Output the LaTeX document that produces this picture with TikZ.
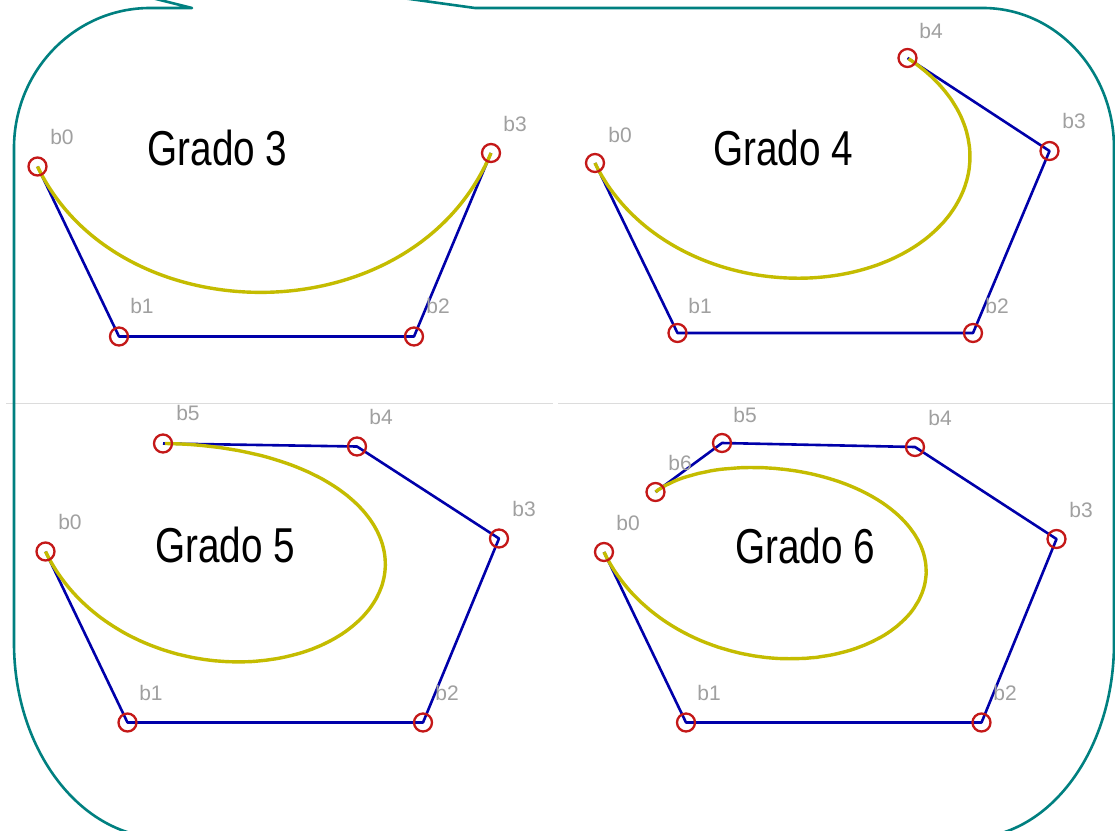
\documentclass[tikz,border=0pt]{standalone}
\usepackage{fontspec}
\setmainfont{Liberation Sans}
\definecolor{frameteal}{RGB}{0,128,128}
\definecolor{polyblue}{RGB}{0,0,170}
\definecolor{curveyel}{RGB}{196,188,0}
\definecolor{ptred}{RGB}{196,24,24}
\definecolor{lblgray}{RGB}{160,160,160}
\definecolor{divgray}{RGB}{220,220,220}
\tikzset{
  frame/.style={draw=frameteal,line width=2.6pt,line join=round},
  divider/.style={draw=divgray,line width=1pt},
  poly/.style={draw=polyblue,line width=2.6pt,line join=round},
  curve/.style={draw=curveyel,line width=3.4pt},
  ctrl/.style={circle,draw=ptred,line width=2.3pt,minimum size=18pt,inner sep=0pt},
  lbl/.style={text=lblgray,inner sep=0pt,font=\fontsize{21}{24}\selectfont},
  title/.style={inner sep=0pt,anchor=base,font=\fontsize{49}{56}\selectfont},
}
\newcommand{\narrowtxt}[1]{\scalebox{0.79}[1]{#1}}
\begin{document}
\begin{tikzpicture}[x=1pt,y=-1pt]
\useasboundingbox (0,0) rectangle (1115,830);
\clip (0,0) rectangle (1115,830);
\fill[white] (0,0) rectangle (1115,830);

% dividers
\draw[divider] (6,403) -- (553,403);
\draw[divider] (558,403) -- (1115,403);

% callout frame
\coordinate (tip) at (-156,-79);
\draw[frame] (tip) -- (475,8) -- (983,8)
  arc[start angle=270,end angle=360,x radius=131,y radius=140]
  -- (1114,643)
  arc[start angle=0,end angle=90,x radius=145,y radius=195]
  -- (164,838)
  arc[start angle=90,end angle=180,x radius=150,y radius=195]
  -- (14,148)
  arc[start angle=180,end angle=270,x radius=136,y radius=140]
  -- (192,8) -- (tip);

% ---------- Grado 3 ----------
\coordinate (a0) at (37.5,166.5);
\coordinate (a1) at (119,336.5);
\coordinate (a2) at (414,336.5);
\coordinate (a3) at (491,153);
\draw[poly] (a0) -- (a1) -- (a2) -- (a3);
\draw[curve] (a0) .. controls (a1) and (a2) .. (a3);
\foreach \p in {a0,a1,a2,a3} \node[ctrl] (c-\p) at (\p) {};
\node[lbl] (l-a0) at (62,137) {b0};
\node[lbl] (l-a1) at (142,306) {b1};
\node[lbl] (l-a2) at (438,306) {b2};
\node[lbl] (l-a3) at (515,124) {b3};
\node[title] (t3) at (217.5,165) {\narrowtxt{Grado 3}};

% ---------- Grado 4 ----------
\coordinate (b0) at (595,163);
\coordinate (b1) at (677.5,333);
\coordinate (b2) at (973,333);
\coordinate (b3) at (1049.5,151);
\coordinate (b4) at (907.5,58);
\draw[poly] (b0) -- (b1) -- (b2) -- (b3) -- (b4);
\draw[curve] plot[domain=0:1,samples=150,variable=\t]
 ({(1-\t)^4*595 + 4*\t*(1-\t)^3*677.5 + 6*\t^2*(1-\t)^2*973 + 4*\t^3*(1-\t)*1049.5 + \t^4*907.5},
  {(1-\t)^4*163 + 4*\t*(1-\t)^3*333 + 6*\t^2*(1-\t)^2*333 + 4*\t^3*(1-\t)*151 + \t^4*58});
\foreach \p in {b0,b1,b2,b3,b4} \node[ctrl] (c-\p) at (\p) {};
\node[lbl] (l-b0) at (620,135) {b0};
\node[lbl] (l-b1) at (700,306) {b1};
\node[lbl] (l-b2) at (997,306) {b2};
\node[lbl] (l-b3) at (1074,121) {b3};
\node[lbl] (l-b4) at (931,31) {b4};
\node[title] (t4) at (783,165) {\narrowtxt{Grado 4}};

% ---------- Grado 5 ----------
\coordinate (d0) at (45.5,551.5);
\coordinate (d1) at (127.5,722.5);
\coordinate (d2) at (423,722.5);
\coordinate (d3) at (499,538.5);
\coordinate (d4) at (357,446.5);
\coordinate (d5) at (163,443.5);
\draw[poly] (d0) -- (d1) -- (d2) -- (d3) -- (d4) -- (d5);
\draw[curve] plot[domain=0:1,samples=150,variable=\t]
 ({(1-\t)^5*45.5 + 5*\t*(1-\t)^4*127.5 + 10*\t^2*(1-\t)^3*423 + 10*\t^3*(1-\t)^2*499 + 5*\t^4*(1-\t)*357 + \t^5*163},
  {(1-\t)^5*551.5 + 5*\t*(1-\t)^4*722.5 + 10*\t^2*(1-\t)^3*722.5 + 10*\t^3*(1-\t)^2*538.5 + 5*\t^4*(1-\t)*446.5 + \t^5*443.5});
\foreach \p in {d0,d1,d2,d3,d4,d5} \node[ctrl] (c-\p) at (\p) {};
\node[lbl] (l-d0) at (70,522) {b0};
\node[lbl] (l-d1) at (151,693) {b1};
\node[lbl] (l-d2) at (447,693) {b2};
\node[lbl] (l-d3) at (524,509) {b3};
\node[lbl] (l-d4) at (381,417) {b4};
\node[lbl] (l-d5) at (188,413) {b5};
\node[title] (t5) at (225,562) {\narrowtxt{Grado 5}};

% ---------- Grado 6 ----------
\coordinate (e0) at (604,552);
\coordinate (e1) at (686,722.5);
\coordinate (e2) at (981.5,722.5);
\coordinate (e3) at (1056.5,539);
\coordinate (e4) at (915,447);
\coordinate (e5) at (722,443);
\coordinate (e6) at (655.5,492);
\draw[poly] (e0) -- (e1) -- (e2) -- (e3) -- (e4) -- (e5) -- (e6);
\draw[curve] plot[domain=0:1,samples=160,variable=\t]
 ({(1-\t)^6*604 + 6*\t*(1-\t)^5*686 + 15*\t^2*(1-\t)^4*981.5 + 20*\t^3*(1-\t)^3*1056.5 + 15*\t^4*(1-\t)^2*915 + 6*\t^5*(1-\t)*722 + \t^6*655.5},
  {(1-\t)^6*552 + 6*\t*(1-\t)^5*722.5 + 15*\t^2*(1-\t)^4*722.5 + 20*\t^3*(1-\t)^3*539 + 15*\t^4*(1-\t)^2*447 + 6*\t^5*(1-\t)*443 + \t^6*492});
\foreach \p in {e0,e1,e2,e3,e4,e5,e6} \node[ctrl] (c-\p) at (\p) {};
\node[lbl] (l-e0) at (628,523) {b0};
\node[lbl] (l-e1) at (709,693) {b1};
\node[lbl] (l-e2) at (1005,693) {b2};
\node[lbl] (l-e3) at (1081,510) {b3};
\node[lbl] (l-e4) at (940,418) {b4};
\node[lbl] (l-e5) at (745,415) {b5};
\node[lbl] (l-e6) at (680,463) {b6};
\node[title] (t6) at (805,563) {\narrowtxt{Grado 6}};
\end{tikzpicture}
\end{document}
